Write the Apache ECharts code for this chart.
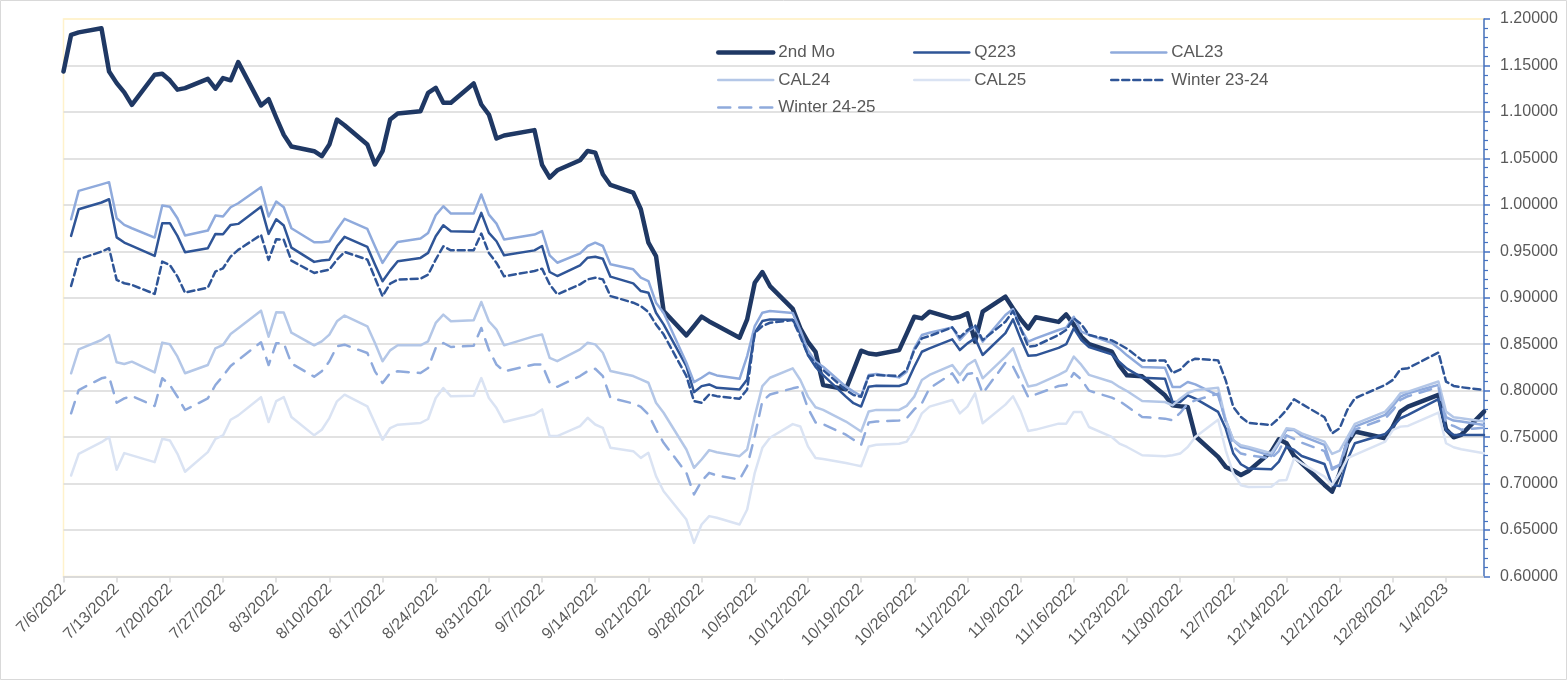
<!DOCTYPE html>
<html>
<head>
<meta charset="utf-8">
<script src="https://cdn.jsdelivr.net/npm/echarts@6/dist/echarts.min.js"></script>
<style>
html,body{margin:0;padding:0;background:#fff;}
#chart{width:1567px;height:680px;}
</style>
</head>
<body>
<div id="chart"></div>
<script>
// Trading days (holidays 9/5, 11/24, 12/26, 1/2 excluded)
const dates = [
 '2022-07-06','2022-07-07','2022-07-08','2022-07-11','2022-07-12','2022-07-13','2022-07-14','2022-07-15','2022-07-18','2022-07-19','2022-07-20','2022-07-21','2022-07-22','2022-07-25','2022-07-26','2022-07-27','2022-07-28','2022-07-29',
 '2022-08-01','2022-08-02','2022-08-03','2022-08-04','2022-08-05','2022-08-08','2022-08-09','2022-08-10','2022-08-11','2022-08-12','2022-08-15','2022-08-16','2022-08-17','2022-08-18','2022-08-19','2022-08-22','2022-08-23','2022-08-24','2022-08-25','2022-08-26','2022-08-29','2022-08-30','2022-08-31',
 '2022-09-01','2022-09-02','2022-09-06','2022-09-07','2022-09-08','2022-09-09','2022-09-12','2022-09-13','2022-09-14','2022-09-15','2022-09-16','2022-09-19','2022-09-20','2022-09-21','2022-09-22','2022-09-23','2022-09-26','2022-09-27','2022-09-28','2022-09-29','2022-09-30',
 '2022-10-03','2022-10-04','2022-10-05','2022-10-06','2022-10-07','2022-10-10','2022-10-11','2022-10-12','2022-10-13','2022-10-14','2022-10-17','2022-10-18','2022-10-19','2022-10-20','2022-10-21','2022-10-24','2022-10-25','2022-10-26','2022-10-27','2022-10-28','2022-10-31',
 '2022-11-01','2022-11-02','2022-11-03','2022-11-04','2022-11-07','2022-11-08','2022-11-09','2022-11-10','2022-11-11','2022-11-14','2022-11-15','2022-11-16','2022-11-17','2022-11-18','2022-11-21','2022-11-22','2022-11-23','2022-11-25','2022-11-28','2022-11-29','2022-11-30',
 '2022-12-01','2022-12-02','2022-12-05','2022-12-06','2022-12-07','2022-12-08','2022-12-09','2022-12-12','2022-12-13','2022-12-14','2022-12-15','2022-12-16','2022-12-19','2022-12-20','2022-12-21','2022-12-22','2022-12-23','2022-12-27','2022-12-28','2022-12-29','2022-12-30',
 '2023-01-03','2023-01-04','2023-01-05','2023-01-06','2023-01-09'
];

const secondMo = [
 1.1435,1.183,1.1856,1.190,1.1435,1.131,1.121,1.1076,1.140,1.141,1.134,1.124,1.1256,1.1356,1.125,1.1364,1.134,1.1536,
 1.107,1.1137,1.094,1.0753,1.0628,1.0577,1.0523,1.0649,1.0918,1.0857,1.0649,1.0434,1.0577,1.0918,1.0983,1.1008,1.1206,1.126,1.1098,1.1098,1.1306,1.108,1.0972,
 1.0714,1.0746,1.0804,1.043,1.0293,1.0372,1.048,1.058,1.0562,1.0329,1.0214,1.0131,0.9952,0.9593,0.9449,0.8857,0.8595,0.8695,0.8796,0.8745,0.8702,
 0.857,0.8767,0.9162,0.9277,0.9126,0.888,0.867,0.8525,0.8418,0.806,0.8015,0.822,0.843,0.84,0.839,0.8436,0.8614,0.8796,0.8778,0.885,0.8778,
 0.8796,0.8832,0.8527,0.885,0.9011,0.8885,0.877,0.867,0.879,0.874,0.882,0.871,0.858,0.85,0.842,0.8272,0.8165,0.8154,0.795,0.7842,0.7832,
 0.7824,0.7509,0.7287,0.7179,0.714,0.7093,0.7136,0.7344,0.7477,0.7434,0.7297,0.7218,0.6985,0.6913,0.7111,0.7434,0.756,0.7488,0.7613,0.7775,0.7829,
 0.7954,0.7585,0.7498,0.7524,0.7775
];

const q223 = [
 null,0.9666,0.9953,1.0025,1.006,0.965,0.9594,0.9558,0.945,0.9802,0.9802,0.9666,0.949,0.9533,0.9687,0.9683,0.9784,0.9795,
 0.998,0.9687,0.9845,0.9777,0.954,0.9386,0.94,0.941,0.9554,0.9655,0.9547,0.9357,0.9177,0.9292,0.9393,0.9429,0.9483,0.9662,0.978,0.9716,0.9709,0.9913,0.9698,
 0.9608,0.9457,0.951,0.9557,0.9277,0.9234,0.9349,0.9431,0.9442,0.942,0.9227,0.9155,0.9072,0.9054,0.8839,0.8713,0.8264,0.7984,0.8049,0.8067,0.8031,
 0.8013,0.812,0.8623,0.8749,0.8767,0.8764,0.8614,0.8382,0.8257,0.8168,0.7936,0.7865,0.7829,0.8043,0.8054,0.805,0.8079,0.8258,0.8419,0.8455,0.8552,
 0.8437,0.8509,0.8563,0.8384,0.862,0.8767,0.856,0.8377,0.838,0.846,0.85,0.867,0.8545,0.847,0.8391,0.8308,0.8237,0.814,0.8129,0.7878,0.7878,
 0.795,0.7914,0.7771,0.7592,0.7323,0.7208,0.7161,0.7154,0.7236,0.7398,0.7362,0.7297,0.7211,0.6985,0.6974,0.7254,0.7434,0.7534,0.7613,0.7703,0.7739,
 0.7908,0.7577,0.7524,0.7524,0.7524
];

const cal23 = [
 null,0.9845,1.015,1.022,1.0244,0.9856,0.9784,0.9748,0.9648,0.9992,0.998,0.9856,0.967,0.9723,0.9884,0.9874,0.9974,1.0017,
 1.019,0.9874,1.0035,0.9974,0.9748,0.9597,0.9597,0.9608,0.9734,0.9849,0.9741,0.9554,0.9375,0.95,0.9601,0.9637,0.9698,0.9888,0.9985,0.9906,0.9906,1.0111,0.9895,
 0.9798,0.9626,0.968,0.9718,0.9456,0.9377,0.9478,0.9557,0.9593,0.9557,0.936,0.9306,0.9216,0.918,0.8947,0.8839,0.83,0.8092,0.8139,0.8193,0.8164,
 0.8128,0.8372,0.8695,0.8839,0.8857,0.8836,0.865,0.8436,0.8311,0.8257,0.8043,0.799,0.7943,0.8168,0.8179,0.8143,0.8204,0.8455,0.8599,0.8624,0.8681,
 0.8545,0.8634,0.8688,0.8527,0.8814,0.8878,0.867,0.8527,0.8563,0.8653,0.8678,0.8796,0.8635,0.86,0.8513,0.8452,0.838,0.8255,0.8247,0.804,0.804,
 0.8093,0.8068,0.795,0.7681,0.7466,0.7394,0.7376,0.7297,0.7434,0.7577,0.7577,0.7513,0.7416,0.7165,0.72,0.747,0.7613,0.7739,0.7836,0.7936,0.7972,
 0.8062,0.7714,0.7678,0.7667,0.7631
];

const cal24 = [
 null,0.8187,0.8445,0.8545,0.8599,0.8305,0.8287,0.8312,0.8197,0.8517,0.8499,0.8366,0.8187,0.8276,0.8456,0.8492,0.861,0.8671,
 0.8861,0.8581,0.8843,0.884,0.8624,0.8488,0.8531,0.8603,0.8747,0.8808,0.8693,0.8513,0.8316,0.8434,0.8488,0.8488,0.8531,0.8729,0.8818,0.8747,0.8757,0.8955,0.8747,
 0.8657,0.8488,0.8587,0.8605,0.8354,0.8318,0.8444,0.8516,0.8498,0.8408,0.8211,0.8157,0.8121,0.8085,0.787,0.7762,0.7367,0.717,0.7259,0.736,0.7338,
 0.7295,0.7367,0.7726,0.8049,0.8139,0.824,0.8115,0.7936,0.7822,0.7793,0.7668,0.7615,0.7561,0.7776,0.7793,0.7793,0.7836,0.7936,0.8115,0.8169,0.8276,
 0.8169,0.8276,0.833,0.8133,0.8366,0.8456,0.824,0.8044,0.806,0.817,0.8212,0.8366,0.8277,0.817,0.8093,0.804,0.7996,0.7889,0.7878,0.7842,0.7914,
 0.7975,0.8004,0.8032,0.7681,0.7466,0.7412,0.7394,0.7326,0.7452,0.7595,0.7585,0.7541,0.7452,0.7319,0.7355,0.7498,0.7642,0.7775,0.7865,0.7972,0.799,
 0.8098,0.7775,0.7714,0.7703,0.7667
];

const cal25 = [
 null,0.7087,0.732,0.7445,0.75,0.7148,0.7328,0.7303,0.7231,0.7482,0.7464,0.732,0.7127,0.7339,0.7482,0.7518,0.7687,0.7734,
 0.793,0.7662,0.7887,0.793,0.7716,0.7519,0.758,0.7705,0.7885,0.7957,0.7831,0.7652,0.7472,0.7598,0.7634,0.7652,0.7695,0.7921,0.8029,0.7939,0.7946,0.8136,0.7921,
 0.7813,0.7662,0.7744,0.7798,0.7511,0.7511,0.7618,0.7708,0.7636,0.76,0.7385,0.7349,0.7277,0.7331,0.708,0.6918,0.6613,0.6362,0.656,0.665,0.6632,
 0.656,0.6721,0.7116,0.7385,0.7493,0.764,0.7615,0.74,0.7276,0.7265,0.7222,0.7204,0.7186,0.74,0.7418,0.7429,0.7452,0.7577,0.7756,0.7828,0.79,
 0.7756,0.7828,0.7971,0.7649,0.785,0.794,0.778,0.7566,0.7581,0.7645,0.7645,0.7771,0.7771,0.7609,0.7502,0.743,0.7394,0.7305,0.7294,0.7305,0.7323,
 0.7394,0.7502,0.7688,0.7358,0.7108,0.6982,0.6964,0.6967,0.7032,0.7039,0.7272,0.7218,0.7075,0.6985,0.7111,0.7272,0.7308,0.7452,0.7577,0.7613,0.762,
 0.7764,0.7434,0.7391,0.7369,0.7326
];

const winter2324 = [
 null,0.9127,0.9414,0.9497,0.9533,0.9192,0.9156,0.9138,0.9041,0.9389,0.9353,0.9228,0.9055,0.9109,0.9282,0.9317,0.9443,0.9515,
 0.9677,0.9407,0.963,0.9623,0.94,0.9267,0.9285,0.9303,0.9411,0.9493,0.9411,0.9213,0.9016,0.9152,0.9195,0.9206,0.9249,0.9411,0.9554,0.9511,0.9511,0.9691,0.9482,
 0.9375,0.9231,0.9288,0.9313,0.9144,0.9036,0.9144,0.9198,0.9216,0.9198,0.9018,0.8947,0.891,0.8846,0.8713,0.8606,0.8157,0.7887,0.787,0.7959,0.7941,
 0.7913,0.8013,0.8623,0.8695,0.8731,0.876,0.8581,0.8384,0.8294,0.8222,0.8007,0.7953,0.7935,0.8158,0.8168,0.8158,0.8222,0.8437,0.8563,0.8588,0.8681,
 0.8573,0.8652,0.8706,0.8545,0.8742,0.8857,0.867,0.8474,0.8484,0.86,0.8653,0.8778,0.8714,0.86,0.8541,0.8498,0.8452,0.8326,0.8326,0.819,0.8226,
 0.8308,0.8344,0.8326,0.8111,0.7824,0.7717,0.7652,0.7631,0.7703,0.7793,0.7908,0.7857,0.7714,0.7541,0.7595,0.7793,0.7918,0.8062,0.8116,0.8231,0.8242,
 0.841,0.8098,0.8051,0.8037,0.8008
];

const winter2425 = [
 null,0.7756,0.8007,0.8133,0.815,0.787,0.7917,0.7942,0.7835,0.8133,0.8061,0.7935,0.7792,0.7917,0.8061,0.8158,0.8266,0.833,
 0.8521,0.8276,0.851,0.851,0.8294,0.815,0.8208,0.8316,0.8477,0.8495,0.8405,0.8208,0.8082,0.819,0.8208,0.819,0.8244,0.8459,0.8513,0.847,0.8484,0.8675,0.8441,
 0.828,0.8208,0.8282,0.8282,0.8085,0.8042,0.8157,0.8211,0.8236,0.8157,0.7923,0.7862,0.7826,0.7744,0.7582,0.7439,0.7116,0.6883,0.7026,0.7116,0.7087,
 0.7044,0.7188,0.7511,0.7887,0.7959,0.8025,0.8043,0.7811,0.7658,0.764,0.7526,0.7472,0.7418,0.7658,0.7668,0.7679,0.7704,0.7799,0.7864,0.8025,0.8186,
 0.8061,0.8179,0.8194,0.7971,0.83,0.826,0.81,0.793,0.796,0.805,0.806,0.819,0.812,0.80,0.7925,0.7889,0.7832,0.7717,0.7699,0.7681,0.776,
 0.786,0.7896,0.7968,0.7663,0.7394,0.7323,0.7305,0.727,0.735,0.752,0.748,0.744,0.735,0.715,0.72,0.742,0.758,0.77,0.779,0.79,0.794,
 0.804,0.765,0.762,0.758,0.76
];

const yTicks = { min: 0.6, max: 1.2, step: 0.05 };
const startDate = '2022-07-06';
const endDate = '2023-01-09';

const DAY = 86400000;
const t0 = Date.parse(startDate + 'T00:00:00Z');
const dayIndex = s => Math.round((Date.parse(s + 'T00:00:00Z') - t0) / DAY);
const pairs = arr => dates.map((d, i) => [dayIndex(d), arr[i]]);
const fmtDate = v => { const d = new Date(t0 + v * DAY); return (d.getUTCMonth() + 1) + '/' + d.getUTCDate() + '/' + d.getUTCFullYear(); };

const FONT = 'Liberation Sans';
const nSplit = Math.round((yTicks.max - yTicks.min) / yTicks.step) + 1;
const splitColors = [];
for (let i = 0; i < nSplit; i++) splitColors.push(i === nSplit - 1 ? '#FFF2CC' : '#D9D9D9');

const widths = { '2nd Mo': 4.5 };
function line(name, arr, color, width, type) {
  return {
    name, type: 'line', data: pairs(arr), symbol: 'none', showSymbol: false,
    lineStyle: { color, width, type: type || 'solid', cap: 'round', join: 'round' },
    itemStyle: { color }
  };
}
const legendItem = n => ({ name: n, lineStyle: { width: widths[n] || 2.5 } });

const legendBase = {
  orient: 'vertical', padding: 0, itemWidth: 55, itemHeight: 18, itemGap: 10.5, top: 44,
  itemStyle: { opacity: 0 },
  textStyle: { fontFamily: FONT, fontSize: 17, color: '#595959' },
  selectedMode: false
};

const chart = echarts.init(document.getElementById('chart'), null, { renderer: 'canvas' });
chart.setOption({
  animation: false,
  backgroundColor: '#ffffff',
  graphic: [{ type: 'rect', shape: { x: 0.5, y: 0.5, width: 1566, height: 679 }, style: { fill: 'none', stroke: '#D9D9D9', lineWidth: 1 }, silent: true, z: -10 }],
  grid: { left: 63.5, right: 83, top: 19, bottom: 103.5, show: true, borderColor: '#FFF2CC', borderWidth: 1.5, backgroundColor: 'transparent' },
  legend: [
    Object.assign({}, legendBase, { left: 716, data: ['2nd Mo', 'CAL24', 'Winter 24-25'].map(legendItem) }),
    Object.assign({}, legendBase, { left: 913, data: ['Q223', 'CAL25'].map(legendItem) }),
    Object.assign({}, legendBase, { left: 1110, data: ['CAL23', 'Winter 23-24'].map(legendItem) })
  ],
  xAxis: {
    type: 'value', min: 0, max: dayIndex(endDate), interval: 7,
    axisLine: { show: true, onZero: false, lineStyle: { color: '#D9D9D9', width: 1.5 } },
    axisTick: { show: true, length: 6, lineStyle: { color: '#D9D9D9', width: 1.5 } },
    axisLabel: { rotate: 45, fontFamily: FONT, fontSize: 16, color: '#595959', margin: 10, showMaxLabel: false,
      formatter: v => (v % 7 === 0 ? fmtDate(v) : '') },
    splitLine: { show: false }
  },
  yAxis: {
    type: 'value', position: 'right', min: yTicks.min, max: yTicks.max, interval: yTicks.step,
    axisLine: { show: true, onZero: false, lineStyle: { color: '#4472C4', width: 1.5 } },
    axisTick: { show: true, length: 6, lineStyle: { color: '#4472C4', width: 1.5 } },
    minorTick: { show: true, splitNumber: 5, length: 4, lineStyle: { color: '#4472C4', width: 1.2 } },
    axisLabel: { fontFamily: FONT, fontSize: 16, color: '#595959', margin: 16, formatter: v => v.toFixed(5) },
    splitLine: { show: true, lineStyle: { color: splitColors, width: 1.5 } }
  },
  series: [
    line('2nd Mo', secondMo, '#1F3864', 4.5),
    line('Q223', q223, '#2F5597', 2.5),
    line('CAL23', cal23, '#8FAADC', 2.5),
    line('CAL24', cal24, '#B4C7E7', 2.5),
    line('CAL25', cal25, '#DAE3F3', 2.5),
    line('Winter 23-24', winter2324, '#2F5597', 2.5, [7, 4]),
    line('Winter 24-25', winter2425, '#8FAADC', 2.5, [12, 9])
  ]
});
</script>
</body>
</html>
